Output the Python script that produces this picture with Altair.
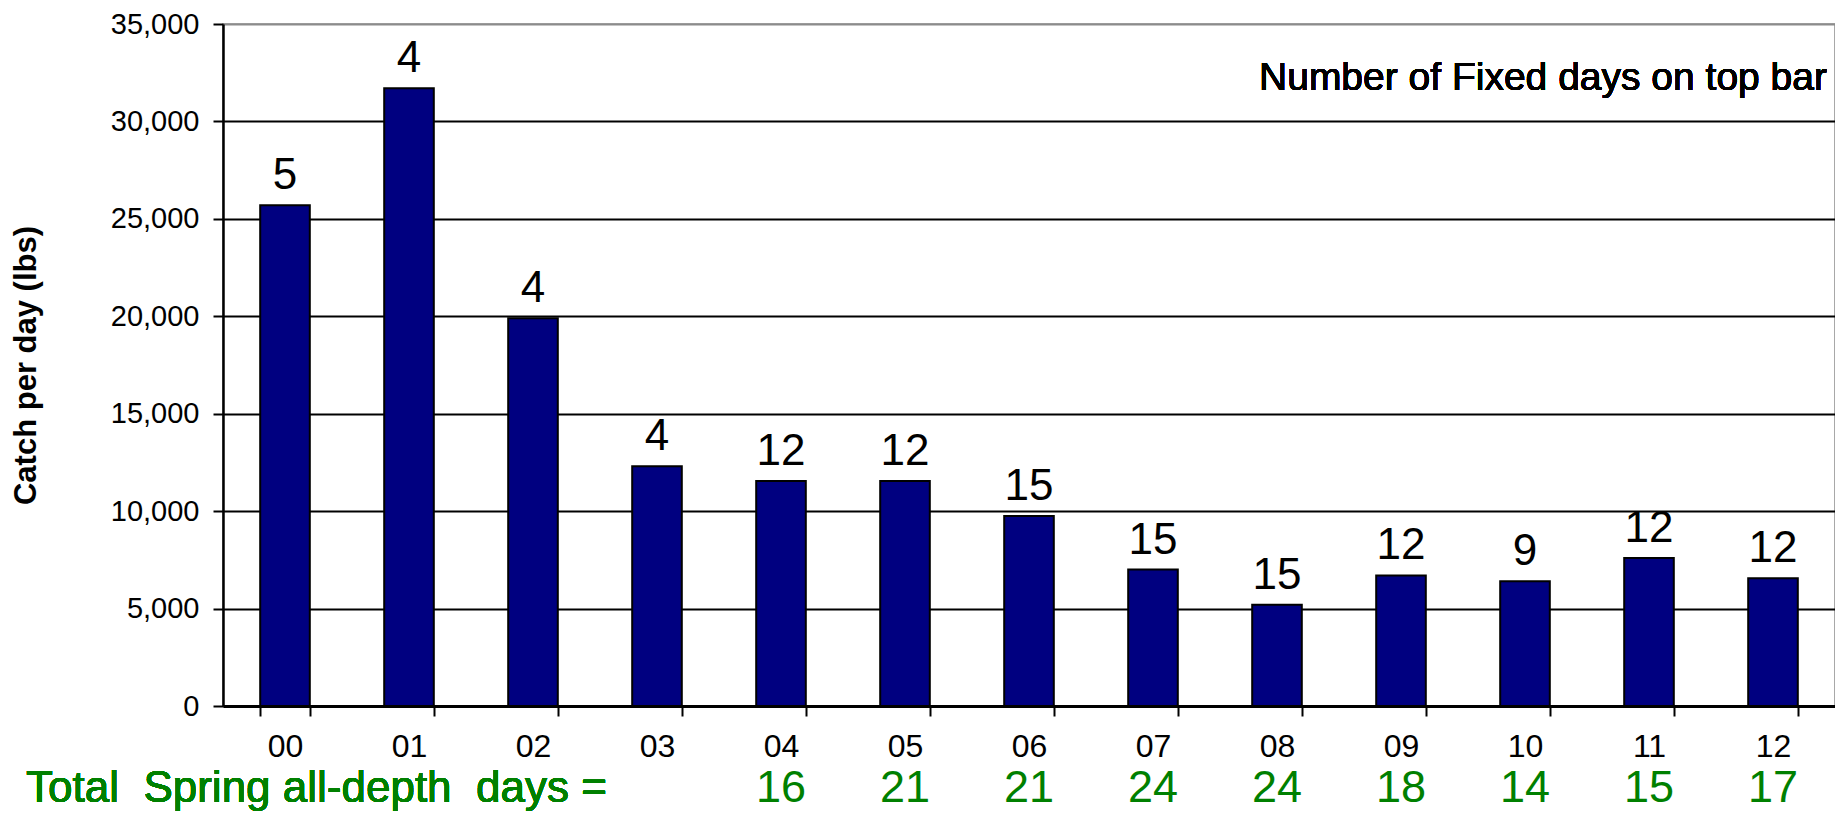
import altair as alt
import pandas as pd

years = ["00", "01", "02", "03", "04", "05", "06", "07", "08", "09", "10", "11", "12"]
catch_per_day = [25700, 31700, 19900, 12300, 11550, 11550, 9750, 7000, 5200, 6700, 6400, 7600, 6550]
fixed_days = [5, 4, 4, 4, 12, 12, 15, 15, 15, 12, 9, 12, 12]
total_years = ["04", "05", "06", "07", "08", "09", "10", "11", "12"]
total_days = [16, 21, 21, 24, 24, 18, 14, 15, 17]
y_ticks = [0, 5000, 10000, 15000, 20000, 25000, 30000, 35000]

W, H = 1612, 682
FONT = "Liberation Sans"
NB = "\u00a0"

df = pd.DataFrame({"year": years, "catch": catch_per_day, "fixed": fixed_days})
tdf = pd.DataFrame({"year": total_years, "days": total_days})

xscale = alt.Scale(domain=years, paddingInner=0.6, paddingOuter=0.3)
yscale = alt.Scale(domain=[0, 35000], nice=False, zero=True)

x_enc = alt.X(
    "year:N", scale=xscale, sort=years,
    axis=alt.Axis(
        title=None, labelAngle=0, labelFont=FONT, labelFontSize=32, labelColor="black",
        labelPadding=15, tickBand="extent", tickSize=10, tickColor="black", tickWidth=2,
        domainColor="black", domainWidth=3, grid=False,
    ),
)
y_enc = alt.Y(
    "catch:Q", scale=yscale,
    axis=alt.Axis(
        title="Catch per day (lbs)", values=y_ticks, format=",d",
        labelFont=FONT, labelFontSize=29, labelColor="black", labelPadding=14,
        tickSize=10, tickColor="black", tickWidth=2,
        domainColor="black", domainWidth=2.5,
        grid=True, gridWidth=2,
        gridColor={"condition": {"test": "datum.value === 35000", "value": "#8c8c8c"}, "value": "black"},
        titleFont=FONT, titleFontWeight="bold", titleFontSize=31,
        titleColor="black", titleAngle=-90, titleX=-197, titleY=H / 2,
        titleAlign="center", titleBaseline="middle",
    ),
)

bars = alt.Chart(df).mark_bar(color="#000080", stroke="black", strokeWidth=2).encode(x=x_enc, y=y_enc)

bar_labels = alt.Chart(df).mark_text(
    font=FONT, fontSize=44, fontWeight="normal", dy=-16, baseline="alphabetic", color="black"
).encode(x=alt.X("year:N", scale=xscale, sort=years), y=alt.Y("catch:Q", scale=yscale), text="fixed:N")

note = alt.Chart(df).mark_text(
    font=FONT, fontSize=39, fontWeight="normal", align="right", baseline="middle", color="black",
    text=f"Number{NB}of{NB}Fixed days on top bar",
).encode(x=alt.value(W - 8), y=alt.value(54))

green_title = alt.Chart(df).mark_text(
    font=FONT, fontSize=44, fontWeight="normal", align="left", baseline="alphabetic", color="#008000",
    text=f"Total{NB}{NB}Spring{NB}all-depth{NB}{NB}days{NB}=",
).encode(x=alt.value(-197), y=alt.value(H + 96))

green_nums = alt.Chart(tdf).mark_text(
    font=FONT, fontSize=45, fontWeight="normal", align="center", baseline="alphabetic", color="#008000",
).encode(x=alt.X("year:N", scale=xscale, sort=years), y=alt.value(H + 96), text="days:N")

chart = alt.layer(bars, bar_labels, note, green_title, green_nums).properties(
    width=W, height=H,
    autosize=alt.AutoSizeParams(type="none"),
    padding={"left": 215, "top": 16, "right": 0, "bottom": 106},
    background="white",
).configure_view(stroke="#8c8c8c", strokeWidth=1.5)

chart.save("out.html", embed_options={"renderer": "svg", "actions": False})
